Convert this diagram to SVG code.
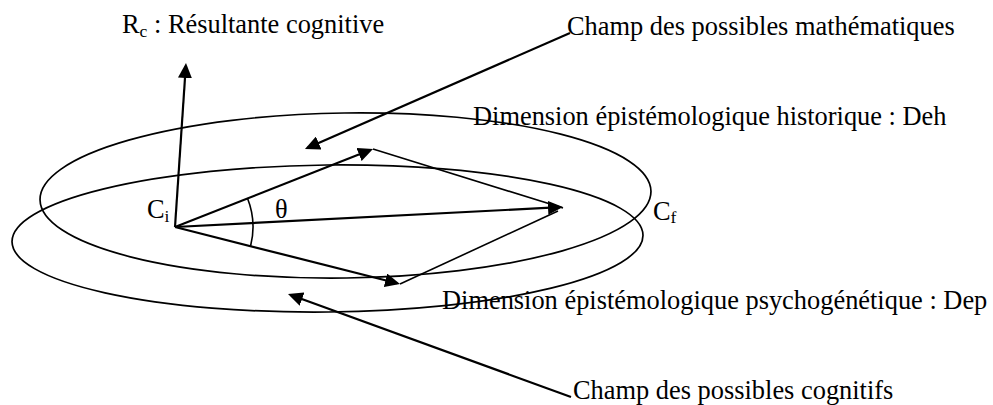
<svg xmlns="http://www.w3.org/2000/svg" width="993" height="405" viewBox="0 0 993 405">
<style>
text{font-family:"Liberation Serif","Times New Roman",serif;font-size:26.4px;fill:#000}
.sub{font-size:17.5px}
.ell{fill:none;stroke:#000;stroke-width:1.7}
.arr{fill:none;stroke:#000;stroke-width:2.2;marker-end:url(#ah)}
.thin{fill:none;stroke:#000;stroke-width:1.6}
</style>
<defs>
<marker id="ah" markerUnits="userSpaceOnUse" markerWidth="15" markerHeight="14" refX="12" refY="7" orient="auto">
<path d="M0,0 L15,7 L0,14 z" fill="#000"/>
</marker>
</defs>
<rect width="993" height="405" fill="#fff"/>
<g id="deh">
<ellipse class="ell" cx="345.5" cy="195.5" rx="305.5" ry="82.5" transform="rotate(-0.8 345.5 195.5)"/>
<text x="473" y="125">Dimension épistémologique historique : Deh</text>
</g>
<g id="dep">
<ellipse class="ell" cx="327.5" cy="238.5" rx="315.5" ry="73.5" transform="rotate(-0.6 327.5 238.5)"/>
<text x="442" y="309">Dimension épistémologique psychogénétique : Dep</text>
</g>
<g id="ci"><text x="147" y="218">C<tspan class="sub" dy="4">i</tspan></text></g>
<g id="cf"><text x="653" y="220">C<tspan class="sub" dy="3">f</tspan></text></g>
<g id="theta"><text x="275" y="218">θ</text></g>
<g id="rc"><text x="122" y="33">R<tspan class="sub" dy="4">c</tspan><tspan dy="-4"> : Résultante cognitive</tspan></text></g>
<g id="math"><text x="567" y="35">Champ des possibles mathématiques</text></g>
<g id="cog"><text x="573" y="399">Champ des possibles cognitifs</text></g>
<g id="connectors">
<line class="arr" x1="175" y1="227" x2="185.8" y2="66"/>
<line class="arr" x1="570" y1="33" x2="307.7" y2="147.8"/>
<line class="arr" x1="571" y1="397" x2="290.8" y2="295"/>
<line class="arr" x1="175" y1="227" x2="370.2" y2="150.1"/>
<line class="arr" x1="175" y1="227" x2="560" y2="207.2"/>
<line class="arr" x1="175" y1="227" x2="397.1" y2="283.3"/>
<line class="thin" x1="373" y1="149" x2="563" y2="208"/>
<line class="thin" x1="400" y1="284" x2="558" y2="211"/>
<path class="thin" d="M247.4,198 A78,78 0 0 1 250.6,246"/>
</g>
</svg>
